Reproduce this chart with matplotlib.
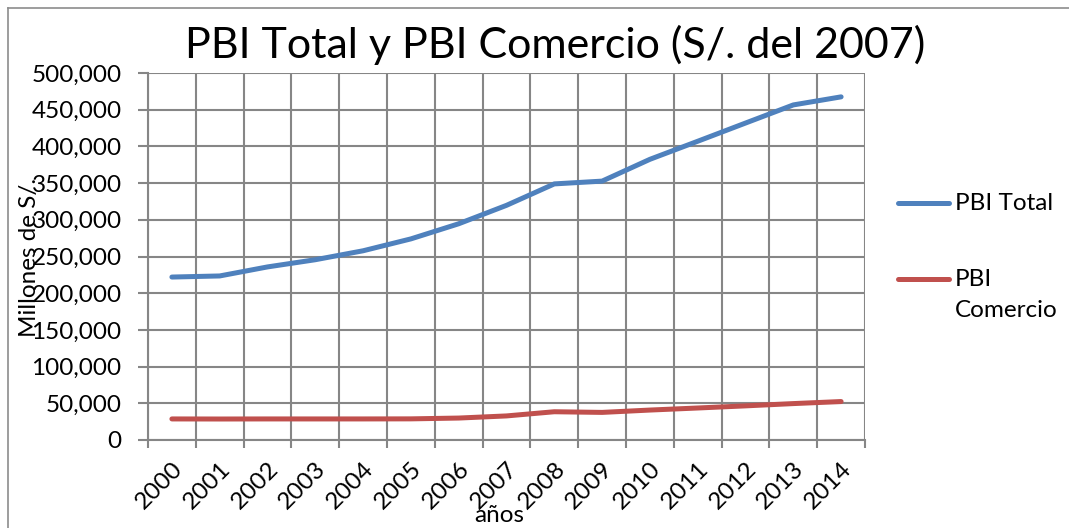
import matplotlib
matplotlib.use("Agg")
import matplotlib.pyplot as plt
from matplotlib.ticker import FuncFormatter

years = ["2000", "2001", "2002", "2003", "2004", "2005", "2006", "2007",
         "2008", "2009", "2010", "2011", "2012", "2013", "2014"]
pbi_total = [222000, 223500, 235800, 245600, 257800, 274000, 294600, 319700,
             348900, 352700, 382400, 407000, 431800, 456500, 467500]
pbi_comercio = [28700, 28600, 28700, 28700, 28700, 28800, 29900, 32800,
                38500, 37600, 40800, 43600, 46500, 49600, 52400]
series_names = ["PBI Total", "PBI\nComercio"]
series_colors = ['#4F81BD', '#C0504D']

plt.rcParams['font.family'] = ['Lato', 'DejaVu Sans']

W, H = 1069, 528
fig = plt.figure(figsize=(W / 100, H / 100), dpi=100)
fig.patch.set_facecolor('white')

# outer chart border (left and top visible)
fig.add_artist(plt.Line2D([8 / W, 8 / W], [0, 1 - 8 / H], transform=fig.transFigure,
                          color='#8c8c8c', lw=1.2))
fig.add_artist(plt.Line2D([8 / W, 1], [1 - 8 / H, 1 - 8 / H], transform=fig.transFigure,
                          color='#8c8c8c', lw=1.2))

ax = fig.add_axes([148 / W, 1 - 440 / H, (865 - 148) / W, (440 - 73) / H])
x = list(range(len(years)))
grid_c = '#868686'

for vals, col in zip([pbi_total, pbi_comercio], series_colors):
    ax.plot(x, vals, color=col, lw=3.6, solid_capstyle='round',
            solid_joinstyle='round')

ax.set_xlim(-0.5, len(years) - 0.5)
ax.set_ylim(0, 500000)
ax.set_yticks(range(0, 500001, 50000))
ax.yaxis.set_major_formatter(FuncFormatter(lambda v, p: f"{int(v):,}"))

ax.set_xticks(x)
ax.set_xticklabels(years, rotation=45, ha='right', va='top', rotation_mode='anchor')
ax.set_xticks([i - 0.5 for i in range(len(years) + 1)], minor=True)
ax.tick_params(axis='x', which='major', length=0, pad=13, labelsize=17.5)
ax.tick_params(axis='x', which='minor', length=6, width=1.5, color=grid_c)
ax.tick_params(axis='y', length=7, width=1.5, color=grid_c, labelsize=17.5, pad=12)

ax.grid(True, which='minor', axis='x', color=grid_c, lw=1.5)
ax.grid(True, which='major', axis='y', color=grid_c, lw=1.5)
ax.set_axisbelow(True)
for s in ['top', 'right']:
    ax.spines[s].set_visible(False)
for s in ['left', 'bottom']:
    ax.spines[s].set_color(grid_c)
    ax.spines[s].set_linewidth(1.5)

fig.text(555 / W, 1 - 45 / H, "PBI Total y PBI Comercio (S/. del 2007)",
         ha='center', va='center', fontsize=31)
fig.text(30 / W, 1 - 257 / H, "Millones de S/.", rotation=90, ha='center',
         va='center', fontsize=17.5)
fig.text(499 / W, 1 - 516 / H, "años", ha='center', va='center', fontsize=17.5)

# legend (drawn manually so the handle sits on the first text line)
for name, col, yy in zip(series_names, series_colors, [203, 279]):
    fig.add_artist(plt.Line2D([898 / W, 949 / W], [1 - yy / H, 1 - yy / H],
                              transform=fig.transFigure, color=col, lw=3.6,
                              solid_capstyle='round'))
    fig.text(955 / W, 1 - (yy - 10) / H, name, ha='left', va='top',
             fontsize=17.5, linespacing=1.6)

fig.savefig("out.png", dpi=100, facecolor='white')
